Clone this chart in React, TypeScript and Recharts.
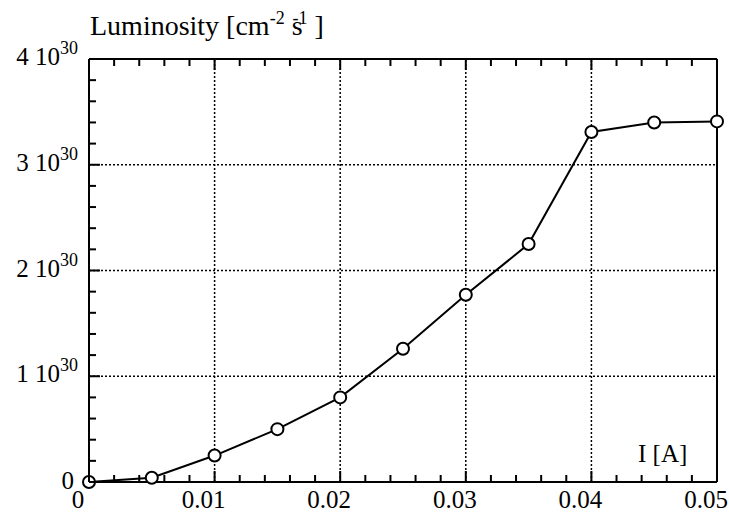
import { LineChart, Line, XAxis, YAxis, ReferenceLine, Customized } from "recharts";

// beam current [A] vs luminosity (in units of 10^30 cm^-2 s^-1)
const current = [0, 0.005, 0.01, 0.015, 0.02, 0.025, 0.03, 0.035, 0.04, 0.045, 0.05];
const luminosity = [0, 0.04, 0.25, 0.5, 0.8, 1.26, 1.77, 2.25, 3.31, 3.4, 3.41];

const xTicks = [
  0, 0.002, 0.004, 0.006, 0.008, 0.01, 0.012, 0.014, 0.016, 0.018, 0.02, 0.022, 0.024,
  0.026, 0.028, 0.03, 0.032, 0.034, 0.036, 0.038, 0.04, 0.042, 0.044, 0.046, 0.048, 0.05,
];
const yTicks = [
  0, 0.2, 0.4, 0.6, 0.8, 1, 1.2, 1.4, 1.6, 1.8, 2, 2.2, 2.4, 2.6, 2.8, 3, 3.2, 3.4, 3.6, 3.8, 4,
];
const xGrid = [0.01, 0.02, 0.03, 0.04];
const yGrid = [1, 2, 3];

const data = current.map((c, i) => ({ current: c, lum: luminosity[i] }));

const FONT = "'Liberation Serif', 'Times New Roman', serif";
const fontStyle = { fontFamily: FONT };
const MAJOR = 11;
const MINOR = 7;

const isMajorX = (v: number) => Math.round(v * 1000) % 10 === 0;
const isMajorY = (v: number) => Math.round(v * 10) % 10 === 0;
const fmtX = (v: number) => (v === 0 ? "0" : v.toFixed(2));

const BottomTick = (props: any) => {
  const { x, y, payload } = props;
  const major = isMajorX(payload.value);
  return (
    <g>
      <line x1={x} x2={x} y1={y} y2={y - (major ? MAJOR : MINOR)} stroke="#000" strokeWidth={2} />
      {major && (
        <text x={x - 11} y={y + 26} textAnchor="middle" style={fontStyle} fontSize={25} fill="#000">
          {fmtX(payload.value)}
        </text>
      )}
    </g>
  );
};

const TopTick = (props: any) => {
  const { x, y, payload } = props;
  const major = isMajorX(payload.value);
  return <line x1={x} x2={x} y1={y} y2={y + (major ? MAJOR : MINOR)} stroke="#000" strokeWidth={2} />;
};

const LeftTick = (props: any) => {
  const { x, y, payload } = props;
  const major = isMajorY(payload.value);
  const v = Math.round(payload.value);
  return (
    <g>
      <line x1={x} x2={x + (major ? MAJOR : MINOR)} y1={y} y2={y} stroke="#000" strokeWidth={2} />
      {major &&
        (v === 0 ? (
          <text x={x - 15} y={y + 7} textAnchor="end" style={fontStyle} fontSize={25} fill="#000">
            0
          </text>
        ) : (
          <text x={x - 11} y={y + 6} textAnchor="end" style={fontStyle} fontSize={25} fill="#000">
            {`${v} 10`}
            <tspan fontSize={18} dy={-11}>
              30
            </tspan>
          </text>
        ))}
    </g>
  );
};

const RightTick = (props: any) => {
  const { x, y, payload } = props;
  const major = isMajorY(payload.value);
  return <line x1={x} x2={x - (major ? MAJOR : MINOR)} y1={y} y2={y} stroke="#000" strokeWidth={2} />;
};

const Titles = () => (
  <g fill="#000">
    <text x={90} y={35} fontSize={28} style={fontStyle}>
      Luminosity [cm
      <tspan fontSize={18} dy={-11}>-2</tspan>
      <tspan fontSize={28} dy={11}> s</tspan>
      <tspan fontSize={18} dy={-11} dx={-10}>-1</tspan>
      <tspan fontSize={28} dy={11}> ]</tspan>
    </text>
    <text x={638} y={462} fontSize={25} style={fontStyle}>
      I [A]
    </text>
  </g>
);

const axisLine = { stroke: "#000", strokeWidth: 2 };

export default function App() {
  return (
    <div style={{ position: "absolute", left: 0, top: 0, background: "#fff" }}>
      <LineChart width={729} height={512} data={data} margin={{ top: 0, right: 0, bottom: 0, left: 0 }}>
        <XAxis
          xAxisId="b"
          dataKey="current"
          type="number"
          domain={[0, 0.05]}
          ticks={xTicks}
          interval={0}
          orientation="bottom"
          height={30}
          tickSize={0}
          tickMargin={0}
          tickLine={false}
          axisLine={axisLine}
          tick={<BottomTick />}
        />
        <XAxis
          xAxisId="t"
          dataKey="current"
          type="number"
          domain={[0, 0.05]}
          ticks={xTicks}
          interval={0}
          orientation="top"
          height={59}
          tickSize={0}
          tickMargin={0}
          tickLine={false}
          axisLine={axisLine}
          tick={<TopTick />}
        />
        <YAxis
          yAxisId="l"
          type="number"
          domain={[0, 4]}
          ticks={yTicks}
          interval={0}
          orientation="left"
          width={89}
          tickSize={0}
          tickMargin={0}
          tickLine={false}
          axisLine={axisLine}
          tick={<LeftTick />}
        />
        <YAxis
          yAxisId="r"
          type="number"
          domain={[0, 4]}
          ticks={yTicks}
          interval={0}
          orientation="right"
          width={12}
          tickSize={0}
          tickMargin={0}
          tickLine={false}
          axisLine={axisLine}
          tick={<RightTick />}
        />
        {xGrid.map((g) => (
          <ReferenceLine key={`x${g}`} xAxisId="b" yAxisId="l" x={g} stroke="#000" strokeWidth={1.5} strokeDasharray="2 2" />
        ))}
        {yGrid.map((g) => (
          <ReferenceLine key={`y${g}`} xAxisId="b" yAxisId="l" y={g} stroke="#000" strokeWidth={1.5} strokeDasharray="2 2" />
        ))}
        <Line
          xAxisId="b"
          yAxisId="l"
          dataKey="lum"
          stroke="#000"
          strokeWidth={2}
          dot={{ r: 6, fill: "#fff", stroke: "#000", strokeWidth: 2 }}
          isAnimationActive={false}
        />
        <Customized component={Titles} />
      </LineChart>
    </div>
  );
}
